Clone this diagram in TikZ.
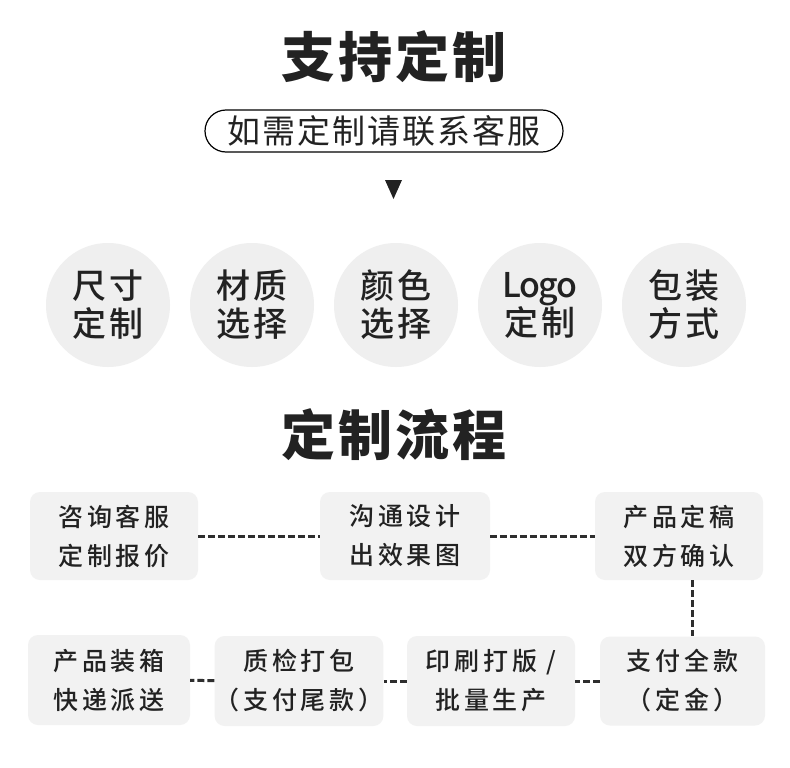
\documentclass[tikz,border=0pt]{standalone}
\usepackage{fontspec}
\setmainfont{Noto Sans CJK SC}
\newfontfamily\titlefont{Noto Sans CJK SC Black}[LetterSpace=6]
\newfontfamily\optfont{Noto Sans CJK SC Medium}[LetterSpace=10]
\newfontfamily\logofont{Noto Sans CJK SC Medium}[LetterSpace=-5]
\newfontfamily\boxfont{Noto Sans CJK SC Medium}[LetterSpace=15]
\newfontfamily\pillfont{Noto Sans CJK SC}[LetterSpace=6]
\definecolor{ink}{HTML}{222222}
\definecolor{circlegray}{HTML}{EFEFEF}
\definecolor{boxgray}{HTML}{F2F2F2}
\definecolor{dashgray}{HTML}{2E2E2E}

\begin{document}
\begin{tikzpicture}[x=1pt, y=-1pt, every node/.style={text=ink},
	heading/.style={font=\titlefont\fontsize{54}{60}\selectfont},
	pill/.style={draw=black, line width=1.2pt, rounded corners=21pt, minimum width=358pt, minimum height=42pt, inner sep=0pt, font=\pillfont\fontsize{33}{36}\selectfont},
	option/.style={circle, fill=circlegray, minimum size=124pt, inner sep=0pt, align=center, font=\optfont\fontsize{34}{38}\selectfont},
	flowbox/.style={fill=boxgray, rounded corners=10pt, minimum width=168pt, minimum height=88pt, inner sep=0pt, align=center, font=\boxfont\fontsize{25}{39}\selectfont},
	flowlink/.style={draw=dashgray, line width=3pt, dash pattern=on 7pt off 3pt}]
	\useasboundingbox (0,0) rectangle (790,768);
	\fill[white] (0,0) rectangle (790,768);

	% top part
	\node[heading] (head) at (394,57) {支持定制};
	\node[pill] (contact) at (384,131) {如需定制请联系客服};
	\fill[ink] (385,180) -- (402,180) -- (393.5,199) -- cycle;

	\foreach \i/\first/\second in {0/尺寸/定制, 1/材质/选择, 2/颜色/选择, 4/包装/方式}
		\node[option] (opt\i) at (108+144*\i,305) {\first\\\second};
	\node[option] (opt3) at (540,305) {{\logofont Logo}\\定制};

	% process
	\node[heading] (process) at (394,435) {定制流程};

	\node[flowbox] (consult) at (114,536) {咨询客服\\定制报价};
	\node[flowbox, minimum width=170pt] (design) at (405,536) {沟通设计\\出效果图};
	\node[flowbox] (confirm) at (679,536) {产品定稿\\双方确认};
	\node[flowbox, minimum width=165pt, minimum height=89pt] (deposit) at (682.5,681) {支付全款\\（定金）};
	\node[flowbox, minimum height=90pt] (print) at (491,681) {印刷打版 /\\批量生产};
	\node[flowbox, minimum height=90pt] (pack) at (299,681) {质检打包\\（支付尾款）};
	\node[flowbox, minimum width=162pt, minimum height=90pt] (ship) at (109,680) {产品装箱\\快递派送};

	\draw[flowlink] (consult) -- (design);
	\draw[flowlink] (design) -- (confirm);
	\draw[flowlink] ([xshift=13pt]confirm.south) -- ([xshift=13pt]confirm.south |- deposit.north);
	\draw[flowlink] (deposit) -- (print);
	\draw[flowlink] (print) -- (pack);
	\draw[flowlink] (pack) -- (ship);
\end{tikzpicture}
\end{document}
